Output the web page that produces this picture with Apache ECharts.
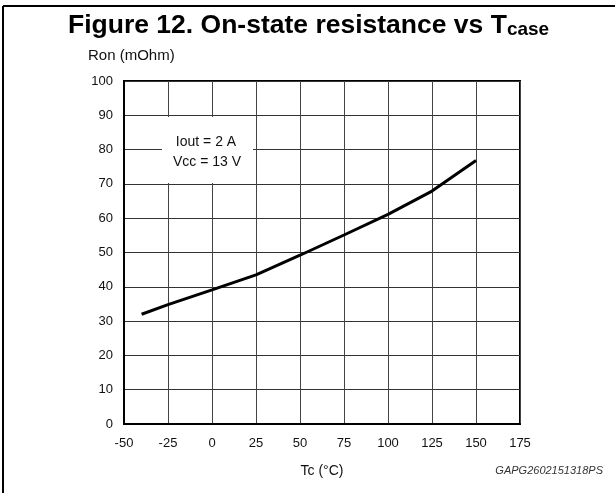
<!DOCTYPE html>
<html><head><meta charset="utf-8">
<script src="https://cdn.jsdelivr.net/npm/echarts@6/dist/echarts.min.js"></script>
<style>html,body{margin:0;padding:0;background:#fff}#c{width:615px;height:493px}</style>
</head><body><div id="c"></div>
<script>
const temps = [-40, -25, 0, 25, 50, 75, 100, 125, 150];
const ron = [32, 34.8, 39.1, 43.5, 49.2, 55.1, 61.1, 67.9, 76.8];
const xTicks = [-50, -25, 0, 25, 50, 75, 100, 125, 150, 175];
const yTicks = [0, 10, 20, 30, 40, 50, 60, 70, 80, 90, 100];
const noteLines = ['Iout = 2 A', 'Vcc = 13 V'];
const FONT = '"Liberation Sans", Arial, sans-serif';

const chart = echarts.init(document.getElementById('c'), null, {renderer: 'canvas'});
chart.setOption({
  animation: false,
  backgroundColor: '#fff',
  grid: {left: 124, right: 95, top: 81, bottom: 69, show: true, borderColor: '#000', borderWidth: 2, backgroundColor: 'transparent'},
  xAxis: {
    type: 'value', min: xTicks[0], max: xTicks[xTicks.length-1], interval: 25,
    name: 'Tc (°C)', nameLocation: 'middle', nameGap: 40,
    nameTextStyle: {fontFamily: FONT, fontSize: 14, color: '#111'},
    axisLine: {show: true, onZero: false, lineStyle: {color: '#000', width: 2}},
    axisTick: {show: false},
    axisLabel: {fontFamily: FONT, fontSize: 13, color: '#111', margin: 13},
    splitLine: {show: true, lineStyle: {color: '#444', width: 1}}
  },
  yAxis: {
    type: 'value', min: yTicks[0], max: yTicks[yTicks.length-1], interval: 10,
    axisLine: {show: true, onZero: false, lineStyle: {color: '#000', width: 2}},
    axisTick: {show: false},
    axisLabel: {fontFamily: FONT, fontSize: 13, color: '#111', margin: 11},
    splitLine: {show: true, lineStyle: {color: '#333', width: 1}}
  },
  series: [{
    type: 'line', data: temps.map((t, i) => [t, ron[i]]),
    showSymbol: false, smooth: false,
    lineStyle: {color: '#000', width: 3}, z: 5
  }],
  graphic: [
    {type: 'line', shape: {x1: 3, y1: 6, x2: 615, y2: 6}, style: {stroke: '#000', lineWidth: 2}},
    {type: 'line', shape: {x1: 3, y1: 6, x2: 3, y2: 493}, style: {stroke: '#000', lineWidth: 2}},
    {type: 'text', left: 68, top: 12, style: {
      text: '{a|Figure 12. On-state resistance vs T}{b|case}',
      rich: {
        a: {fontFamily: FONT, fontSize: 26.5, fontWeight: 'bold', fill: '#000', lineHeight: 36, verticalAlign: 'bottom'},
        b: {fontFamily: FONT, fontSize: 19, fontWeight: 'bold', fill: '#000', lineHeight: 17, verticalAlign: 'bottom'}
      }
    }},
    {type: 'text', left: 88, top: 48, style: {text: 'Ron (mOhm)', fontFamily: FONT, fontSize: 15, fill: '#111'}},
    {type: 'rect', shape: {x: 162, y: 117, width: 91, height: 66}, style: {fill: '#fff'}, z: 3},
    {type: 'text', x: 206, y: 142, z: 4, style: {text: noteLines[0], fontFamily: FONT, fontSize: 14, fill: '#111', textAlign: 'center', textVerticalAlign: 'middle'}},
    {type: 'text', x: 207, y: 162, z: 4, style: {text: noteLines[1], fontFamily: FONT, fontSize: 14, fill: '#111', textAlign: 'center', textVerticalAlign: 'middle'}},
    {type: 'text', right: 12, top: 465, style: {text: 'GAPG2602151318PS', fontFamily: FONT, fontSize: 11, fontStyle: 'italic', fill: '#333'}}
  ]
});
</script></body></html>
